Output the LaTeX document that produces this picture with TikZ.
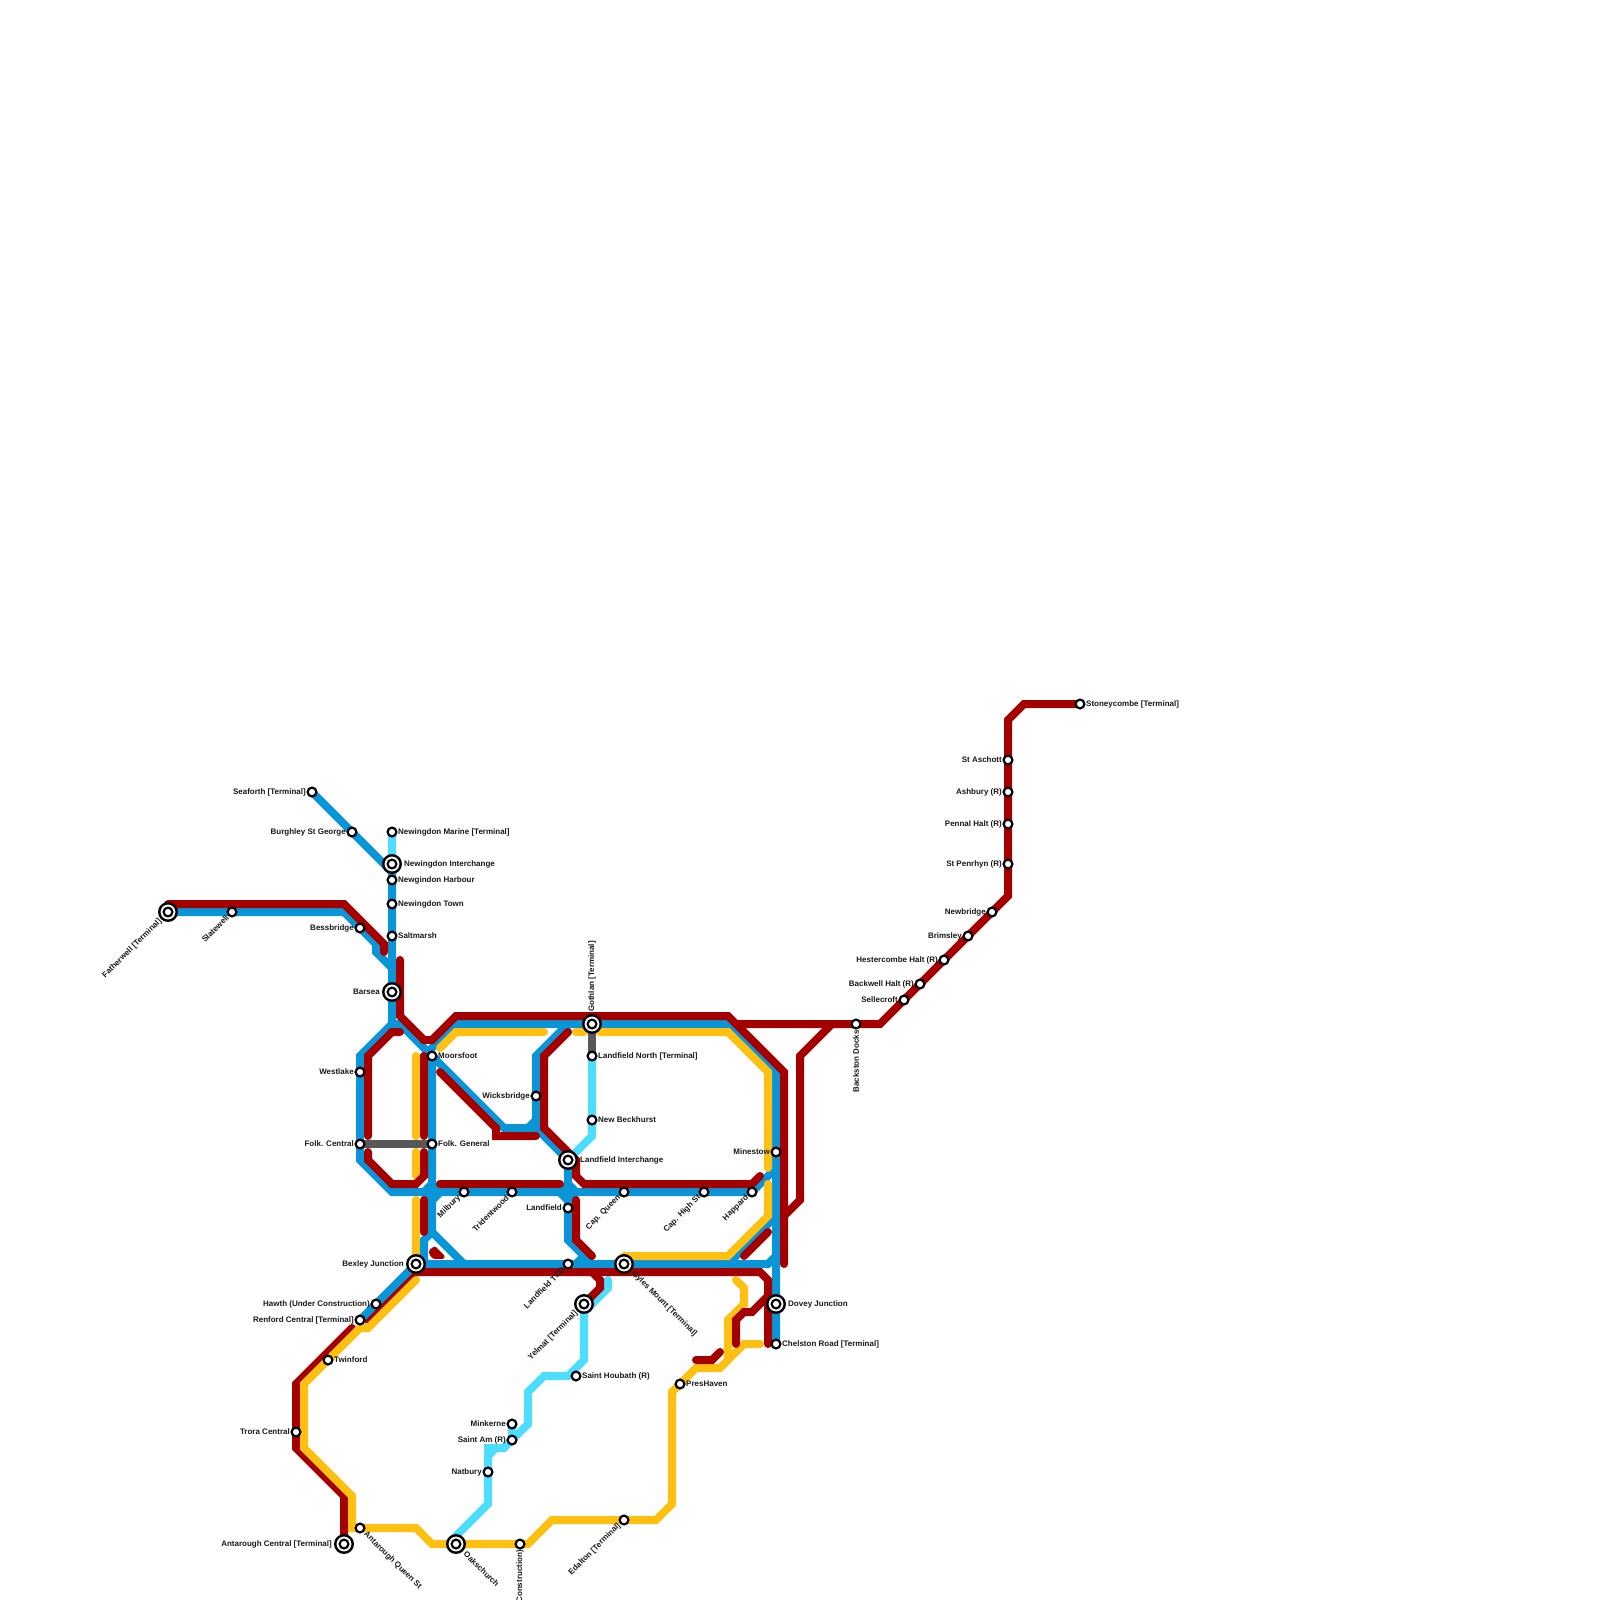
\documentclass[tikz,border=0pt]{standalone}
\usepackage{fontspec}
\setmainfont{Liberation Sans}
\definecolor{lblue}{HTML}{0A95D8}
\definecolor{lred}{HTML}{A50000}
\definecolor{lyel}{HTML}{FFC012}
\definecolor{lcyan}{HTML}{4DDDFF}
\definecolor{lgray}{HTML}{585858}
\tikzset{
 x=1pt,y=-1pt,
 seg/.style={line width=8pt,line cap=round,line join=miter,miter limit=10},
 bl/.style={seg,draw=lblue},
 rd/.style={seg,draw=lred},
 ye/.style={seg,draw=lyel},
 cy/.style={seg,draw=lcyan},
 gy/.style={seg,draw=lgray},
 stn/.style={circle,draw=black,fill=white,line width=2.2pt,minimum size=8.8pt,inner sep=0pt},
 bigo/.style={circle,draw=black,fill=white,line width=2.4pt,minimum size=17.5pt,inner sep=0pt},
 txt/.style={inner sep=0pt,font=\fontsize{8}{8}\selectfont\bfseries,text=black!90},
 lr/.style={txt,anchor=west,xshift=6pt,yshift=0pt},
 ll/.style={txt,anchor=east,xshift=-6pt,yshift=0pt},
 blr/.style={txt,anchor=west,xshift=12pt,yshift=0pt},
 bll/.style={txt,anchor=east,xshift=-12pt,yshift=0pt},
 dsw/.style={txt,anchor=east,xshift=-4.5pt,yshift=-4.5pt,rotate=45},
 bdsw/.style={txt,anchor=east,xshift=-7.5pt,yshift=-8pt,rotate=45},
 dse/.style={txt,anchor=west,xshift=5pt,yshift=-5pt,rotate=-45},
 bdse/.style={txt,anchor=west,xshift=9pt,yshift=-8.5pt,rotate=-45},
 vup/.style={txt,anchor=west,yshift=12pt,rotate=90},
 vdn/.style={txt,anchor=east,yshift=-6pt,rotate=90},
}
\newcommand{\sm}[3]{\node[stn] (#1) at (#2) {}; \node[#3] (#1L) at (#2)}
\newcommand{\bg}[3]{\node[bigo] (#1) at (#2) {}; \node[stn] (#1I) at (#2) {}; \node[#3] (#1L) at (#2)}
\begin{document}
\begin{tikzpicture}
\useasboundingbox (0,0) rectangle (1600,1600);
\fill[white] (0,0) rectangle (1600,1600);
% named stops used as line ends
\coordinate (pSeaforth) at (312,792);
\coordinate (pMarine) at (392,832);
\coordinate (pIntch) at (392,864);
\coordinate (pFather) at (168,912);
\coordinate (pFolkC) at (360,1144);
\coordinate (pFolkG) at (432,1144);
\coordinate (pGothlan) at (592,1024);
\coordinate (pLandN) at (592,1056);
\coordinate (pBexley) at (416,1264);
\coordinate (pRenford) at (360,1320);
\coordinate (pChelston) at (776,1344);
\coordinate (pLandI) at (568,1160);
\coordinate (pMinkerne) at (512,1424);
\coordinate (pSaintAm) at (512,1440);
\coordinate (pAntC) at (344,1544);
\coordinate (pStoney) at (1080,704);
% red under the other lines
\draw[rd] (416,1272)--(368,1320);
\draw[rd] (352,1328)--(296,1384)--(296,1448)--(344,1496)--(pAntC);
% blue
\fill[lblue] (432,1178)--(446,1192)--(432,1206)--(418,1192)--cycle;
\fill[lblue] (568,1178)--(582,1192)--(568,1206)--(554,1192)--cycle;
\draw[bl] (pSeaforth)--(392,872)--(392,1024)--(360,1056)--(360,1160)--(392,1192)--(752,1192)--(776,1168);
\draw[bl] (pFather)--(344,912)--(376,944)--(376,952)--(392,968);
\draw[bl] (392,1024)--(400,1024)--(504,1128)--(536,1128)--(pLandI);
\draw[bl] (432,1056)--(424,1056)--(456,1024)--(728,1024)--(776,1072)--(pChelston);
\draw[bl] (536,1128)--(536,1056)--(568,1024);
\draw[bl] (528,1128)--(536,1120);
\draw[bl] (560,1024)--(568,1032);
\draw[bl] (432,1056)--(432,1232)--(464,1264);
\draw[bl] (432,1232)--(424,1240)--(424,1264);
\draw[bl] (pBexley)--(768,1264)--(776,1256);
\draw[bl] (728,1264)--(776,1216);
\draw[bl] (pBexley)--(pRenford);
\draw[bl] (pLandI)--(568,1240)--(592,1264);
\draw[bl] (576,1264)--(584,1256);
% yellow
\draw[ye] (416,1056)--(416,1136);
\draw[ye] (416,1152)--(416,1176);
\draw[ye] (416,1200)--(pBexley);
\draw[ye] (440,1048)--(456,1032)--(544,1032);
\draw[ye] (576,1032)--(584,1032);
\draw[ye] (600,1032)--(728,1032)--(768,1072)--(768,1168);
\draw[ye] (624,1256)--(728,1256)--(768,1216)--(768,1184);
\draw[ye] (416,1280)--(368,1328)--(360,1328)--(304,1384)--(304,1448)--(352,1496)--(352,1528)--(416,1528)--(432,1544)--(528,1544)--(552,1520)--(656,1520)--(672,1504)--(672,1392)--(696,1368)--(720,1368)--(744,1344)--(760,1344);
\draw[ye] (736,1280)--(744,1288)--(744,1304)--(728,1320)--(728,1360);
% cyan
\draw[cy] (pMarine)--(pIntch);
\draw[cy] (pLandN)--(592,1136)--(pLandI);
\draw[cy] (608,1280)--(608,1288)--(584,1312)--(584,1360)--(568,1376)--(544,1376)--(528,1392)--(528,1424)--(504,1448)--(496,1448)--(488,1456)--(488,1504)--(452,1540);
\draw[cy] (488,1452)--(488,1448)--(496,1448);
\draw[cy] (pMinkerne)--(pSaintAm);
% red
\draw[rd] (168,904)--(344,904)--(384,944)--(384,952);
\draw[rd] (400,960)--(400,1016)--(424,1040)--(432,1040)--(456,1016)--(728,1016)--(784,1072)--(784,1264);
\draw[rd] (736,1024)--(880,1024)--(1008,896)--(1008,720)--(1024,704)--(pStoney);
\draw[rd] (832,1024)--(800,1056)--(800,1200)--(784,1216);
\draw[rd] (400,1032)--(392,1032)--(368,1056)--(368,1136);
\draw[rd] (368,1152)--(368,1160)--(392,1184)--(416,1184)--(424,1176)--(424,1152);
\draw[rd] (424,1056)--(424,1136);
\draw[rd] (424,1200)--(424,1232);
\fill[lred,rounded corners=1.5pt] (435,1246)--(445,1256)--(444,1259)--(433,1259)--(429,1254)--(429,1250)--cycle;
\draw[rd] (440,1072)--(496,1128)--(496,1136)--(536,1136);
\draw[rd] (440,1184)--(560,1184);
\draw[rd] (568,1032)--(544,1056)--(544,1128)--(576,1160)--(576,1176)--(584,1184)--(752,1184)--(760,1176);
\draw[rd] (576,1200)--(576,1240)--(592,1256);
\draw[rd] (744,1256)--(768,1232);
\draw[rd] (416,1272)--(760,1272)--(768,1280)--(768,1344);
\draw[rd] (592,1272)--(600,1280)--(600,1288)--(584,1304);
\draw[rd] (736,1344)--(736,1320)--(744,1312)--(752,1312)--(768,1296);
\draw[rd] (696,1360)--(712,1360)--(720,1352);
% gray
\draw[gy] (pFolkC)--(pFolkG);
\draw[gy] (pGothlan)--(pLandN);
% stations
\sm{s1}{312,792}{ll}{Seaforth [Terminal]};
\sm{s2}{352,832}{ll}{Burghley St George};
\sm{s3}{392,832}{lr}{Newingdon Marine [Terminal]};
\bg{s4}{392,864}{blr}{Newingdon Interchange};
\sm{s5}{392,880}{lr}{Newgindon Harbour};
\sm{s6}{392,904}{lr}{Newingdon Town};
\sm{s7}{392,936}{lr}{Saltmarsh};
\bg{s8}{392,992}{bll}{Barsea};
\sm{s9}{360,928}{ll}{Bessbridge};
\bg{s10}{168,912}{bdsw}{Fatherwell [Terminal]};
\sm{s11}{232,912}{dsw}{Slatewell};
\sm{s12}{360,1072}{ll}{Westlake};
\sm{s13}{360,1144}{ll}{Folk. Central};
\sm{s14}{432,1056}{lr}{Moorsfoot};
\sm{s15}{432,1144}{lr}{Folk. General};
\sm{s16}{536,1096}{ll}{Wicksbridge};
\sm{s17}{592,1120}{lr}{New Beckhurst};
\sm{s18}{592,1056}{lr}{Landfield North [Terminal]};
\bg{s19}{592,1024}{vup}{Gothlan [Terminal]};
\bg{s20}{568,1160}{blr}{Landfield Interchange};
\sm{s21}{464,1192}{dsw}{Milbury};
\sm{s22}{512,1192}{dsw}{Tridentwood};
\sm{s23}{568,1208}{ll}{Landfield};
\sm{s24}{624,1192}{dsw}{Cap. Queen};
\sm{s25}{704,1192}{dsw}{Cap. High St};
\sm{s26}{752,1192}{dsw}{Happard};
\sm{s27}{776,1152}{ll}{Minestow};
\bg{s28}{416,1264}{bll}{Bexley Junction};
\sm{s29}{568,1264}{dsw}{Landfield TCD};
\bg{s30}{624,1264}{bdse}{Gyles Mount [Terminal]};
\bg{s31}{584,1304}{bdsw}{Yelmat [Terminal]};
\bg{s32}{776,1304}{blr}{Dovey Junction};
\sm{s33}{776,1344}{lr}{Chelston Road [Terminal]};
\sm{s34}{576,1376}{lr}{Saint Houbath (R)};
\sm{s35}{680,1384}{lr}{PresHaven};
\sm{s36}{376,1304}{ll}{Hawth (Under Construction)};
\sm{s37}{360,1320}{ll}{Renford Central [Terminal]};
\sm{s38}{328,1360}{lr}{Twinford};
\sm{s39}{296,1432}{ll}{Trora Central};
\bg{s40}{344,1544}{bll}{Antarough Central [Terminal]};
\sm{s41}{360,1528}{dse}{Antarough Queen St};
\bg{s42}{456,1544}{bdse}{Oakschurch};
\sm{s43}{520,1544}{vdn}{Construction)};
\sm{s44}{624,1520}{dsw}{Edalton [Terminal]};
\sm{s45}{488,1472}{ll}{Natbury};
\sm{s46}{512,1440}{ll}{Saint Am (R)};
\sm{s47}{512,1424}{ll}{Minkerne};
\sm{s48}{856,1024}{vdn}{Backston Docks};
\sm{s49}{904,1000}{ll}{Sellecroft};
\sm{s50}{920,984}{ll}{Backwell Halt (R)};
\sm{s51}{944,960}{ll}{Hestercombe Halt (R)};
\sm{s52}{968,936}{ll}{Brimsley};
\sm{s53}{992,912}{ll}{Newbridge};
\sm{s54}{1008,864}{ll}{St Penrhyn (R)};
\sm{s55}{1008,824}{ll}{Pennal Halt (R)};
\sm{s56}{1008,792}{ll}{Ashbury (R)};
\sm{s57}{1008,760}{ll}{St Aschott};
\sm{s58}{1080,704}{lr}{Stoneycombe [Terminal]};
\end{tikzpicture}
\end{document}
